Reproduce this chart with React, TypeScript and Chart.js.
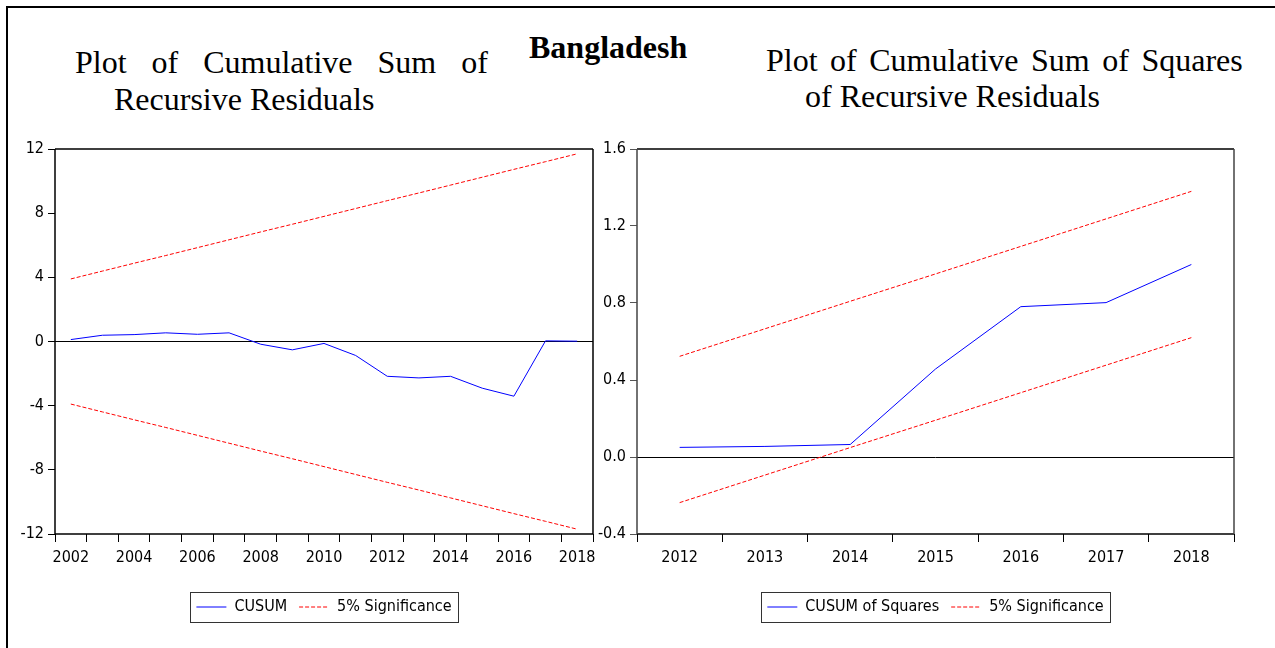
import React, { useEffect, useRef } from 'react';
import { Chart, registerables } from 'chart.js';

Chart.register(...registerables);

// ---- Data ----
const cusumYears = ['2002', '2003', '2004', '2005', '2006', '2007', '2008', '2009', '2010', '2011', '2012', '2013', '2014', '2015', '2016', '2017', '2018'];
const cusumValues = [0.12, 0.39, 0.43, 0.54, 0.45, 0.54, -0.17, -0.52, -0.12, -0.87, -2.17, -2.27, -2.17, -2.91, -3.41, 0.04, 0.02];
const cusumUpper = [3.9, 4.39, 4.88, 5.36, 5.85, 6.34, 6.83, 7.31, 7.8, 8.29, 8.78, 9.26, 9.75, 10.24, 10.73, 11.21, 11.7];
const cusumLower = [-3.9, -4.39, -4.88, -5.36, -5.85, -6.34, -6.83, -7.31, -7.8, -8.29, -8.78, -9.26, -9.75, -10.24, -10.73, -11.21, -11.7];
const cusumYTicks = [-12, -8, -4, 0, 4, 8, 12];

const sqYears = ['2012', '2013', '2014', '2015', '2016', '2017', '2018'];
const sqValues = [0.05, 0.055, 0.065, 0.457, 0.781, 0.802, 1.0];
const sqUpper = [0.523, 0.666, 0.809, 0.951, 1.094, 1.237, 1.38];
const sqLower = [-0.237, -0.094, 0.049, 0.191, 0.334, 0.477, 0.62];
const sqYTicks = [-0.4, 0.0, 0.4, 0.8, 1.2, 1.6];

const AXIS_FONT = "'Liberation Sans Narrow', 'Arial Narrow', 'DejaVu Sans Condensed', sans-serif";
const FONT_SIZE = 16;

const frameAndLegendBox = {
  id: 'frameAndLegendBox',
  afterDraw(chart: any, _args: any, opts: any) {
    const { ctx, chartArea } = chart;
    const { left, right, top, bottom } = chartArea;
    ctx.save();
    ctx.setLineDash([]);
    ctx.lineWidth = 1.5;
    ctx.strokeStyle = '#000';
    ctx.beginPath();
    ctx.moveTo(left, top); ctx.lineTo(right, top);
    ctx.moveTo(left, bottom); ctx.lineTo(right, bottom);
    ctx.stroke();
    ctx.strokeStyle = opts.sideColor || '#000';
    ctx.beginPath();
    ctx.moveTo(left, top); ctx.lineTo(left, bottom);
    ctx.moveTo(right, top); ctx.lineTo(right, bottom);
    ctx.stroke();
    const hb = chart.legend && chart.legend.legendHitBoxes;
    if (hb && hb.length) {
      const first = hb[0];
      const last = hb[hb.length - 1];
      const l = Math.round(first.left - 6) + 0.5;
      const r = Math.round(last.left + last.width + 6) + 0.5;
      const t = Math.round(first.top - 7) + 0.5;
      const b = Math.round(first.top + first.height + 7) + 0.5;
      ctx.lineWidth = 1;
      ctx.strokeStyle = '#333';
      ctx.strokeRect(l, t, r - l, b - t);
    }
    ctx.restore();
  },
};

type Props = {
  left: number;
  width: number;
  labels: string[];
  values: number[];
  upper: number[];
  lower: number[];
  mainLabel: string;
  yMin: number;
  yMax: number;
  yTicks: number[];
  yAxisWidth: number;
  padRight: number;
  decimals: number;
  everyOther: boolean;
  sideColor: string;
  yTickColor: string;
};

function CusumChart(p: Props) {
  const ref = useRef<HTMLCanvasElement>(null);
  useEffect(() => {
    if (!ref.current) return;
    const chart = new Chart(ref.current, {
      type: 'line',
      data: {
        labels: p.labels,
        datasets: [
          { label: p.mainLabel, data: p.values, borderColor: '#0000ff', borderWidth: 1, pointRadius: 0, tension: 0, fill: false },
          { label: '5% Significance', data: p.upper, borderColor: '#ff0000', borderWidth: 1, borderDash: [4, 2], pointRadius: 0, tension: 0, fill: false },
          { label: '5% Significance (lower)', data: p.lower, borderColor: '#ff0000', borderWidth: 1, borderDash: [4, 2], pointRadius: 0, tension: 0, fill: false },
        ],
      },
      options: {
        animation: false,
        responsive: false,
        maintainAspectRatio: false,
        events: [],
        layout: { padding: { top: 20, right: p.padRight, bottom: 4, left: 0 } },
        plugins: {
          tooltip: { enabled: false },
          title: { display: false },
          frameAndLegendBox: { sideColor: p.sideColor },
          legend: {
            display: true,
            position: 'bottom',
            fullSize: false,
            labels: {
              filter: (item: any) => item.datasetIndex !== 2,
              generateLabels: (c: any) => {
                const items = Chart.defaults.plugins.legend.labels.generateLabels(c);
                return items.map((it: any) => {
                  const ds = c.data.datasets[it.datasetIndex];
                  return { ...it, lineDash: ds.borderDash || [], strokeStyle: ds.borderColor, fillStyle: ds.borderColor, lineWidth: 1, pointStyle: 'line' };
                });
              },
              usePointStyle: true,
              pointStyle: 'line',
              pointStyleWidth: 30,
              padding: 12,
              color: '#000',
              font: { family: AXIS_FONT, size: FONT_SIZE },
            },
          },
        },
        scales: {
          x: {
            type: 'category',
            offset: true,
            border: { display: false },
            grid: { display: true, offset: true, drawOnChartArea: false, drawTicks: true, tickLength: 8, tickColor: '#000', tickWidth: 1 },
            ticks: {
              autoSkip: false,
              maxRotation: 0,
              minRotation: 0,
              padding: 6,
              color: '#000',
              font: { family: AXIS_FONT, size: FONT_SIZE },
              callback: (_v: any, i: number) => (p.everyOther && i % 2 === 1 ? '' : p.labels[i]),
            },
            afterFit: (scale: any) => { scale.height = 53; },
          },
          y: {
            type: 'linear',
            min: p.yMin,
            max: p.yMax,
            border: { display: false },
            afterBuildTicks: (scale: any) => { scale.ticks = p.yTicks.map((v) => ({ value: v })); },
            grid: {
              drawTicks: true,
              tickLength: 7,
              tickColor: p.yTickColor,
              lineWidth: 1,
              color: (ctx: any) => (ctx.tick && ctx.tick.value === 0 ? '#000' : 'rgba(0,0,0,0)'),
            },
            ticks: {
              padding: 4,
              color: '#000',
              font: { family: AXIS_FONT, size: FONT_SIZE },
              callback: (v: any) => Number(v).toFixed(p.decimals),
            },
            afterFit: (scale: any) => { scale.width = p.yAxisWidth; },
          },
        },
      },
      plugins: [frameAndLegendBox],
    });
    return () => chart.destroy();
  }, []);
  return (
    <canvas
      ref={ref}
      width={p.width}
      height={500}
      style={{ position: 'absolute', left: p.left, top: 129, width: p.width, height: 500 }}
    />
  );
}

const serif = "'Liberation Serif', 'Times New Roman', serif";

export default function App() {
  const line = (text: string, left: number, top: number, extra: any = {}) => (
    <div style={{ position: 'absolute', left, top, fontFamily: serif, fontSize: 32, lineHeight: '32px', whiteSpace: 'nowrap', color: '#000', ...extra }}>{text}</div>
  );
  return (
    <div style={{ position: 'fixed', left: 0, top: 0, width: 1275, height: 648, background: '#fff', overflow: 'hidden' }}>
      <div style={{ position: 'absolute', left: 6, top: 6, width: 1300, height: 700, borderLeft: '2px solid #000', borderTop: '2px solid #000' }} />
      {line('Plot of Cumulative Sum of', 75, 46, { wordSpacing: '17px' })}
      {line('Recursive Residuals', 114, 83)}
      {line('Bangladesh', 529, 31, { fontWeight: 'bold' })}
      {line('Plot of Cumulative Sum of Squares', 766, 44, { wordSpacing: '4.5px' })}
      {line('of Recursive Residuals', 805, 80)}
      <CusumChart
        left={0}
        width={610}
        labels={cusumYears}
        values={cusumValues}
        upper={cusumUpper}
        lower={cusumLower}
        mainLabel="CUSUM"
        yMin={-12}
        yMax={12}
        yTicks={cusumYTicks}
        yAxisWidth={55}
        padRight={17}
        decimals={0}
        everyOther={true}
        sideColor="#000"
        yTickColor="#000"
      />
      <CusumChart
        left={597}
        width={678}
        labels={sqYears}
        values={sqValues}
        upper={sqUpper}
        lower={sqLower}
        mainLabel="CUSUM of Squares"
        yMin={-0.4}
        yMax={1.6}
        yTicks={sqYTicks}
        yAxisWidth={40}
        padRight={41}
        decimals={1}
        everyOther={false}
        sideColor="#444"
        yTickColor="#555"
      />
    </div>
  );
}
